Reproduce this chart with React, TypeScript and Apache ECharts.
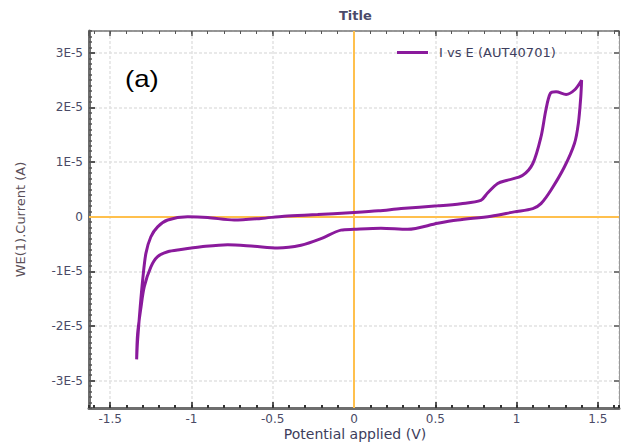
import React, { useEffect, useRef } from "react";
import * as echarts from "echarts";

// Potential applied (V), in scan order
const potential: number[] = [
  0.0, 0.15, 0.29, 0.515, 0.658, 0.78, 0.82, 0.884, 0.946, 1.038, 1.1, 1.15, 1.18, 1.208, 1.243, 1.305,
  1.356, 1.4, 1.395, 1.38, 1.356, 1.294, 1.212, 1.15, 1.1, 0.986, 0.843, 0.638, 0.515, 0.33, 0.166, 0.0,
  -0.08, -0.203, -0.326, -0.47, -0.614, -0.777, -0.94, -1.065, -1.146, -1.208, -1.25, -1.29, -1.31,
  -1.331, -1.337, -1.331, -1.315, -1.3, -1.28, -1.25, -1.208, -1.146, -1.023, -0.9, -0.737, -0.572,
  -0.43, -0.223, 0.0,
];

// WE(1).Current in units of 1E-5 A
const current: number[] = [
  0.08, 0.11, 0.15, 0.2, 0.24, 0.3, 0.43, 0.61, 0.67, 0.76, 0.975, 1.46, 1.95, 2.26, 2.29, 2.24,
  2.32, 2.5, 2.2, 1.71, 1.34, 0.91, 0.49, 0.24, 0.15, 0.09, 0.01, -0.06, -0.12, -0.23, -0.21, -0.23,
  -0.245, -0.4, -0.52, -0.57, -0.54, -0.51, -0.55, -0.6, -0.64, -0.73, -0.92, -1.28, -1.65,
  -2.14, -2.61, -2.26, -1.65, -1.16, -0.67, -0.37, -0.185, -0.06, 0.0, -0.013, -0.06, -0.03,
  0.01, 0.04, 0.08,
];
const currentUnit = 1e-5;

const seriesName = "I vs E (AUT40701)";
const titleText = "Title";
const xName = "Potential applied (V)";
const yName = "WE(1).Current (A)";
const panelLabel = "(a)";

const xRange = [-1.63, 1.63];
const yRange = [-3.5e-5, 3.4e-5];

const FONT = "DejaVu Sans";
const LABEL_COLOR = "#4a4a66";

export default function App() {
  const ref = useRef<HTMLDivElement>(null);
  useEffect(() => {
    if (!ref.current) return;
    const chart = echarts.init(ref.current, undefined, { renderer: "svg" });
    const data = potential.map((v, i) => [v, current[i] * currentUnit]);
    const splitLine = {
      show: true,
      lineStyle: { color: "#e2e2e2", width: 1.5, type: [3, 2] as any },
    };
    const yFmt = (v: number) => {
      if (Math.abs(v) < 1e-12) return "0";
      return Math.round(v / currentUnit) + "E-5";
    };
    chart.setOption({
      animation: false,
      backgroundColor: "#ffffff",
      title: {
        text: titleText,
        left: 339,
        top: 9,
        padding: 0,
        textStyle: { fontFamily: FONT, fontSize: 13, fontWeight: "bold", color: "#4a4a6a" },
      },
      legend: {
        data: [seriesName],
        left: 397,
        top: 46,
        padding: 0,
        icon: "rect",
        itemWidth: 31,
        itemHeight: 3,
        textStyle: { fontFamily: FONT, fontSize: 13, color: "#3e3e5e", padding: [0, 0, 0, 6] },
      },
      graphic: [
        {
          type: "text",
          x: 125,
          y: 79,
          scaleX: 1.2,
          style: {
            text: panelLabel,
            fontFamily: "Liberation Sans",
            fontSize: 23,
            fill: "#000",
            verticalAlign: "middle",
            align: "left",
          },
        },
        {
          type: "text",
          x: 355,
          y: 434,
          style: {
            text: xName,
            fontFamily: FONT,
            fontSize: 14,
            lineHeight: 14,
            fill: "#3d3d5c",
            verticalAlign: "middle",
            align: "center",
          },
        },
      ],
      grid: { left: 89, right: 2, top: 31, bottom: 34, containLabel: false, outerBoundsMode: "none" },
      xAxis: [
        {
          type: "value",
          position: "bottom",
          min: xRange[0],
          max: xRange[1],
          splitNumber: 6,
          axisLine: { show: true, onZero: false, lineStyle: { color: "#6e6e6e", width: 3 } },
          axisTick: { show: true, inside: true, length: 6, lineStyle: { color: "#555", width: 2 } },
          axisLabel: {
            showMinLabel: false,
            showMaxLabel: false,
            margin: 4,
            color: LABEL_COLOR,
            fontFamily: FONT,
            fontSize: 12,
            lineHeight: 13,
          },
          splitLine,
        },
        {
          type: "value",
          position: "top",
          min: xRange[0],
          max: xRange[1],
          splitNumber: 6,
          axisLine: { show: true, onZero: false, lineStyle: { color: "#777", width: 1.5 } },
          axisTick: { show: true, inside: true, length: 5, lineStyle: { color: "#555", width: 1.5 } },
          axisLabel: { show: false },
          splitLine: { show: false },
        },
        {
          type: "value",
          position: "bottom",
          min: xRange[0],
          max: xRange[1],
          splitNumber: 33,
          axisLine: { show: false, onZero: false },
          axisTick: { show: true, inside: true, length: 3, lineStyle: { color: "#333", width: 2 } },
          axisLabel: { show: false },
          splitLine: { show: false },
        },
        {
          type: "value",
          position: "top",
          min: xRange[0],
          max: xRange[1],
          splitNumber: 33,
          axisLine: { show: false, onZero: false },
          axisTick: { show: true, inside: true, length: 3, lineStyle: { color: "#555", width: 1 } },
          axisLabel: { show: false },
          splitLine: { show: false },
        },
      ],
      yAxis: [
        {
          type: "value",
          position: "left",
          min: yRange[0],
          max: yRange[1],
          splitNumber: 7,
          axisLine: { show: true, onZero: false, lineStyle: { color: "#6e6e6e", width: 3 } },
          axisTick: { show: true, inside: true, length: 6, lineStyle: { color: "#555", width: 2 } },
          axisLabel: {
            showMinLabel: false,
            showMaxLabel: false,
            margin: 6,
            color: LABEL_COLOR,
            fontFamily: FONT,
            fontSize: 12,
            formatter: yFmt,
          },
          splitLine,
          name: yName,
          nameLocation: "middle",
          nameRotate: 90,
          nameGap: 62,
          nameTextStyle: { fontFamily: FONT, fontSize: 13, color: "#5b4f58" },
        },
        {
          type: "value",
          position: "right",
          min: yRange[0],
          max: yRange[1],
          splitNumber: 7,
          axisLine: { show: true, onZero: false, lineStyle: { color: "#999", width: 1 } },
          axisTick: { show: true, inside: true, length: 5, lineStyle: { color: "#555", width: 1.5 } },
          axisLabel: { show: false },
          splitLine: { show: false },
        },
        {
          type: "value",
          position: "left",
          min: yRange[0],
          max: yRange[1],
          splitNumber: 69,
          axisLine: { show: false, onZero: false },
          axisTick: { show: true, inside: true, length: 3, lineStyle: { color: "#555", width: 1.5 } },
          axisLabel: { show: false },
          splitLine: { show: false },
        },
      ],
      series: [
        {
          name: seriesName,
          type: "line",
          xAxisIndex: 0,
          yAxisIndex: 0,
          data,
          showSymbol: false,
          smooth: 0.3,
          color: "#8a1a9c",
          lineStyle: { color: "#8a1a9c", width: 3 },
          z: 3,
          markLine: {
            silent: true,
            symbol: ["none", "none"],
            label: { show: false },
            lineStyle: { color: "#FFC04D", width: 2, type: "solid" },
            z: 1,
            data: [{ xAxis: 0 }, { yAxis: 0 }],
          },
        },
      ],
    });
    return () => chart.dispose();
  }, []);
  return (
    <div
      ref={ref}
      style={{ position: "absolute", left: 0, top: 0, width: 621, height: 442, background: "#fff" }}
    />
  );
}
